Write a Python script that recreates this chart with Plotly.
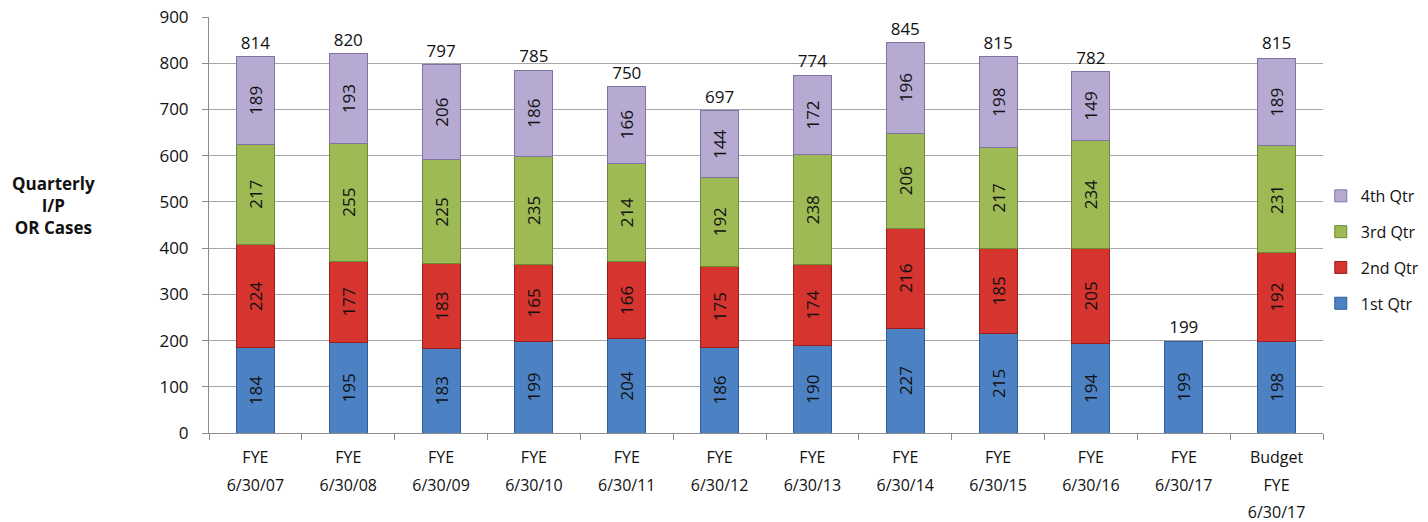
import plotly.graph_objects as go

# Fiscal-year categories (multi-line tick labels)
categories = [
    "FYE<br>6/30/07", "FYE<br>6/30/08", "FYE<br>6/30/09", "FYE<br>6/30/10",
    "FYE<br>6/30/11", "FYE<br>6/30/12", "FYE<br>6/30/13", "FYE<br>6/30/14",
    "FYE<br>6/30/15", "FYE<br>6/30/16", "FYE<br>6/30/17", "Budget<br>FYE<br>6/30/17",
]

# Quarterly inpatient OR cases
q1 = [184, 195, 183, 199, 204, 186, 190, 227, 215, 194, 199, 198]
q2 = [224, 177, 183, 165, 166, 175, 174, 216, 185, 205, None, 192]
q3 = [217, 255, 225, 235, 214, 192, 238, 206, 217, 234, None, 231]
q4 = [189, 193, 206, 186, 166, 144, 172, 196, 198, 149, None, 189]

# Annual totals shown above each bar
totals = [814, 820, 797, 785, 750, 697, 774, 845, 815, 782, 199, 815]

FONT = "Open Sans, DejaVu Sans, sans-serif"

series = [
    ("1st Qtr", q1, "#4c82c4", "#2f5d96"),
    ("2nd Qtr", q2, "#d5342f", "#9a1e1c"),
    ("3rd Qtr", q3, "#9dba55", "#6d8a33"),
    ("4th Qtr", q4, "#b6aad2", "#8073a3"),
]

# Tick labels: larger base font gives roomier line spacing, glyphs drawn at 16px
ticktext = [
    "<br>".join('<span style="font-size:16px">%s</span>' % part for part in c.split("<br>"))
    for c in categories
]

fig = go.Figure()
for i, (name, vals, color, edge) in enumerate(series):
    fig.add_trace(go.Bar(
        name=name,
        x=categories,
        y=vals,
        marker=dict(color=color, line=dict(color=edge, width=1)),
        text=[str(v) if v is not None else "" for v in vals],
        textposition="inside",
        insidetextanchor="middle",
        textangle=-90,
        textfont=dict(family=FONT, size=17, color="#111111"),
        constraintext="none",
        legendgroup=name,
        legendrank=len(series) - i,
        hoverinfo="skip",
    ))

fig.add_trace(go.Scatter(
    x=categories,
    y=totals,
    mode="markers+text",
    marker=dict(size=4, opacity=0),
    text=[str(t) for t in totals],
    textposition="top center",
    textfont=dict(family=FONT, size=17, color="#111111"),
    showlegend=False,
    cliponaxis=False,
    hoverinfo="skip",
))

fig.update_layout(
    width=1428,
    height=522,
    margin=dict(l=209, r=105, t=17, b=89, autoexpand=False),
    barmode="stack",
    bargap=0.59,
    plot_bgcolor="white",
    paper_bgcolor="white",
    font=dict(family=FONT, size=16, color="#111111"),
    legend=dict(
        x=0.998, xanchor="left",
        y=0.44, yanchor="middle",
        traceorder="grouped",
        tracegroupgap=12,
        font=dict(size=16, color="#111111"),
        itemwidth=30,
        bgcolor="rgba(0,0,0,0)",
    ),
    xaxis=dict(
        type="category",
        range=[-0.5, len(categories) - 0.5],
        showgrid=False,
        showline=True,
        linecolor="#8c8c8c",
        ticks="outside",
        tickson="boundaries",
        ticklen=6,
        tickcolor="#8c8c8c",
        tickmode="array",
        tickvals=categories,
        ticktext=ticktext,
        tickfont=dict(size=21),
        ticklabelstandoff=4,
    ),
    yaxis=dict(
        range=[0, 900],
        dtick=100,
        showgrid=True,
        gridcolor="#a6a6a6",
        gridwidth=1,
        showline=True,
        linecolor="#8c8c8c",
        ticks="outside",
        ticklen=6,
        tickcolor="#8c8c8c",
        tickfont=dict(size=17),
        ticklabelstandoff=10,
        zeroline=False,
    ),
    annotations=[dict(
        text="<b>Quarterly<br>I/P<br>OR Cases</b>",
        xref="paper", yref="paper",
        x=-0.14, y=0.548,
        xanchor="center", yanchor="middle",
        showarrow=False,
        align="center",
        font=dict(size=17, color="#111111"),
    )],
)

fig.write_html("out.html")
